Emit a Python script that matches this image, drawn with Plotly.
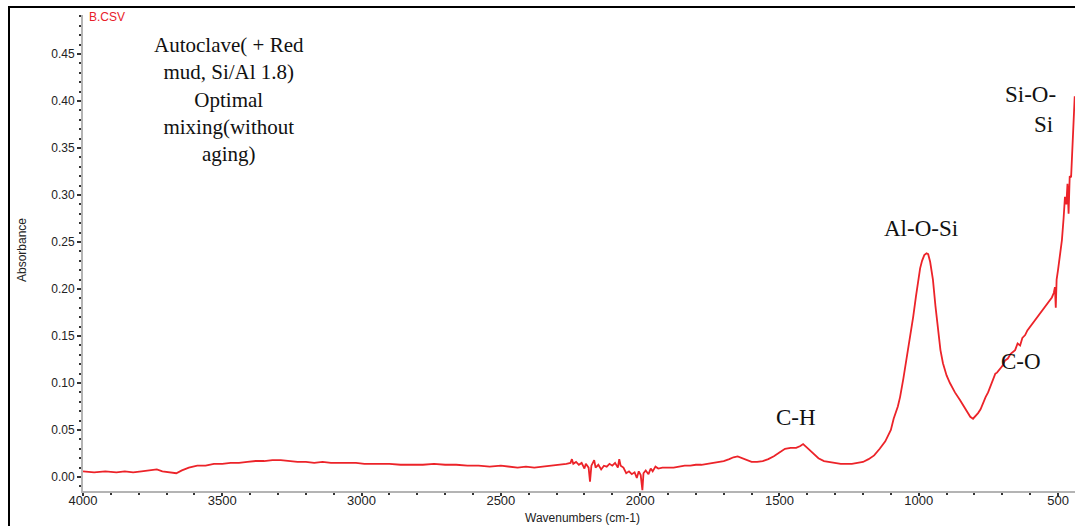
import plotly.graph_objects as go

# ---- data ----
wavenumber = [
    4000, 3960, 3920, 3880, 3850, 3820, 3790, 3760, 3735, 3715, 3690, 3665, 3645, 3620,
    3590, 3560, 3530, 3500, 3470, 3440, 3410, 3380, 3350, 3320, 3290, 3260, 3230, 3200,
    3170, 3140, 3110, 3080, 3050, 3020, 2990, 2960, 2930, 2900, 2860, 2820, 2780, 2740,
    2700, 2660, 2620, 2580, 2540, 2500, 2470, 2440, 2410, 2380, 2350, 2320, 2300, 2280,
    2265, 2250, 2245, 2240, 2230, 2220, 2210, 2200, 2195, 2185, 2180, 2175, 2165, 2160,
    2150, 2140, 2130, 2120, 2110, 2100, 2090, 2080, 2075, 2070, 2060, 2050, 2040, 2030,
    2020, 2012, 2005, 1998, 1992, 1988, 1980, 1970, 1962, 1955, 1945, 1935, 1920, 1900,
    1880, 1860, 1840, 1820, 1800, 1780, 1760, 1740, 1720, 1700, 1680, 1665, 1650, 1635,
    1620, 1600, 1580, 1560, 1540, 1520, 1500, 1480, 1460, 1440, 1425, 1415, 1400, 1380,
    1360, 1340, 1320, 1300, 1280, 1260, 1240, 1220, 1200, 1180, 1160, 1140, 1120, 1100,
    1090, 1075, 1067, 1055, 1042, 1030, 1020, 1010, 1003, 995, 988, 980, 972, 966,
    959, 953, 949, 940, 931, 922, 913, 900, 888, 870, 852, 830, 815, 805,
    795, 787, 778, 769, 760, 751, 742, 733, 725, 719, 710, 700, 690, 680,
    670, 660, 654, 645, 636, 628, 618, 610, 600, 590, 582, 575, 565, 557,
    548, 540, 530, 522, 515, 511, 508, 505, 500, 493, 486, 480, 475, 470,
    466, 462, 458, 453, 449, 446, 443, 440,
]
absorbance = [
    0.006, 0.005, 0.006, 0.005, 0.006, 0.005, 0.006, 0.007, 0.008, 0.006, 0.005, 0.004, 0.007, 0.010,
    0.012, 0.012, 0.014, 0.014, 0.015, 0.015, 0.016, 0.017, 0.017, 0.018, 0.018, 0.017, 0.016, 0.016,
    0.015, 0.016, 0.015, 0.015, 0.015, 0.015, 0.014, 0.014, 0.014, 0.014, 0.013, 0.013, 0.013, 0.014,
    0.013, 0.013, 0.012, 0.012, 0.011, 0.012, 0.011, 0.010, 0.011, 0.010, 0.011, 0.012, 0.013, 0.013,
    0.014, 0.015, 0.019, 0.014, 0.016, 0.013, 0.015, 0.009, 0.014, 0.010, -0.005, 0.012, 0.018, 0.010,
    0.013, 0.008, 0.012, 0.011, 0.014, 0.012, 0.015, 0.010, 0.019, 0.012, 0.010, 0.004, 0.006, 0.003,
    0.005, -0.001, 0.006, 0.002, -0.014, 0.004, 0.007, 0.003, 0.009, 0.006, 0.011, 0.009, 0.010, 0.010,
    0.010, 0.011, 0.012, 0.012, 0.013, 0.013, 0.014, 0.015, 0.016, 0.017, 0.019, 0.021, 0.022, 0.020,
    0.018, 0.016, 0.016, 0.017, 0.019, 0.022, 0.026, 0.030, 0.031, 0.031, 0.033, 0.035, 0.031, 0.025,
    0.020, 0.017, 0.016, 0.015, 0.014, 0.014, 0.014, 0.015, 0.016, 0.019, 0.023, 0.030, 0.038, 0.050,
    0.062, 0.075, 0.085, 0.105, 0.128, 0.150, 0.170, 0.192, 0.208, 0.222, 0.230, 0.236, 0.238, 0.237,
    0.229, 0.218, 0.210, 0.182, 0.156, 0.135, 0.121, 0.108, 0.100, 0.090, 0.082, 0.071, 0.064, 0.062,
    0.065, 0.068, 0.072, 0.079, 0.085, 0.090, 0.097, 0.105, 0.110, 0.111, 0.114, 0.118, 0.124, 0.126,
    0.131, 0.133, 0.135, 0.142, 0.140, 0.148, 0.151, 0.156, 0.160, 0.165, 0.167, 0.170, 0.175, 0.178,
    0.181, 0.184, 0.188, 0.191, 0.196, 0.202, 0.180, 0.210, 0.220, 0.235, 0.252, 0.275, 0.298, 0.290,
    0.312, 0.280, 0.320, 0.319, 0.345, 0.359, 0.390, 0.405,
]

x_ticks = [4000, 3500, 3000, 2500, 2000, 1500, 1000, 500]
y_ticks = [0.00, 0.05, 0.10, 0.15, 0.20, 0.25, 0.30, 0.35, 0.40, 0.45]

title_text = "Autoclave( + Red<br>mud, Si/Al 1.8)<br>Optimal<br>mixing(without<br>aging)"
band_labels = ["Al-O-Si", "C-H", "C-O", "Si-O-", "Si"]

# ---- geometry (page pixels) ----
W, H = 1075, 526
PL, PR, PT, PB = 83, 1075, 15, 491          # plot area
L, T, R, B = PL, PT, W - PR, H - PB


def px(xp):
    return (xp - PL) / (PR - PL)


def py(yp):
    return (PB - yp) / (PB - PT)


fig = go.Figure()
fig.add_trace(go.Scatter(
    x=wavenumber, y=absorbance, mode="lines",
    line=dict(color="#ec2329", width=1.8), showlegend=False,
))

sans = "Arial, Liberation Sans, sans-serif"

fig.update_layout(
    width=W, height=H,
    margin=dict(l=L, r=R, t=T, b=B, pad=0),
    paper_bgcolor="white", plot_bgcolor="white",
    xaxis=dict(
        range=[4000, 439], tickvals=x_ticks, ticktext=[str(v) for v in x_ticks],
        showgrid=False, zeroline=False, showline=True, linecolor="#b4b4b4", linewidth=2,
        ticks="outside", ticklen=3, tickwidth=2, tickcolor="#333",
        minor=dict(dtick=100, ticks="outside", ticklen=2, tickwidth=1.5, tickcolor="#333"),
        tickfont=dict(family=sans, size=13, color="#222"),
        ticklabelstandoff=-7,
    ),
    yaxis=dict(
        range=[-0.0149, 0.4915], tickvals=y_ticks, ticktext=[f"{v:.2f}" for v in y_ticks],
        showgrid=False, zeroline=False, showline=True, linecolor="#b4b4b4", linewidth=2,
        ticks="outside", ticklen=4, tickwidth=1.5, tickcolor="#333",
        minor=dict(dtick=0.01, ticks="outside", ticklen=2, tickwidth=1.5, tickcolor="#333"),
        tickfont=dict(family=sans, size=12, color="#222"),
    ),
)

# outer frame
fig.add_shape(type="rect", xref="paper", yref="paper",
              x0=px(9), x1=px(1090), y0=py(540), y1=py(7),
              line=dict(color="black", width=2), fillcolor="rgba(0,0,0,0)", layer="above")

# axis titles
fig.add_annotation(xref="paper", yref="paper", x=px(582), y=py(518), text="Wavenumbers (cm-1)",
                   showarrow=False, xanchor="center", yanchor="middle",
                   font=dict(family=sans, size=12, color="#222"))
fig.add_annotation(xref="paper", yref="paper", x=px(22), y=py(250), text="Absorbance",
                   showarrow=False, textangle=-90, xanchor="center", yanchor="middle",
                   font=dict(family=sans, size=12, color="#222"))

# file label
fig.add_annotation(xref="paper", yref="paper", x=px(87), y=py(17), text="B.CSV",
                   showarrow=False, xanchor="left", yanchor="middle",
                   font=dict(family=sans, size=12, color="#e8202a"))

# sample description
fig.add_annotation(xref="paper", yref="paper", x=px(229), y=py(99), text=title_text,
                   showarrow=False, xanchor="center", yanchor="middle", align="center",
                   font=dict(family="Liberation Serif, Times New Roman, serif", size=21, color="#111"))

# band labels
serif = dict(family="Liberation Serif, Times New Roman, serif", size=23, color="#111")
band_pos = [(921, 229, "center"), (796, 417, "center"), (1021, 361, "center"),
            (1003, 95, "left"), (1043, 125, "center")]
for lab, (xx, yy, anc) in zip(band_labels, band_pos):
    fig.add_annotation(xref="paper", yref="paper", x=px(xx), y=py(yy), text=lab,
                       showarrow=False, xanchor=anc, yanchor="middle", font=serif)

# remove the default page margin so the figure sits at the window origin
fig.write_html(
    "out.html",
    config={"displayModeBar": False},
    post_script="document.body.style.margin='0';"
                "document.documentElement.style.overflow='hidden';",
)
